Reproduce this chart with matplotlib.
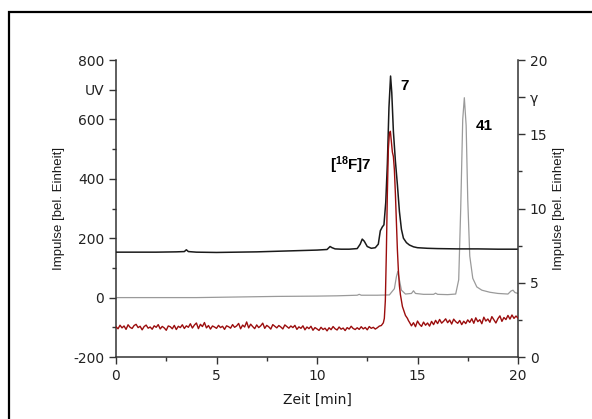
import matplotlib
matplotlib.use("Agg")
import matplotlib.pyplot as plt
from matplotlib.patches import Rectangle
import numpy as np

plt.rcParams["font.family"] = ["DejaVu Sans"]
plt.rcParams["mathtext.fontset"] = "custom"
plt.rcParams["mathtext.rm"] = "Liberation Sans"
plt.rcParams["mathtext.bf"] = "Liberation Sans:bold"

# UV trace (black), left axis units
uv_t = [0, 1, 2, 3, 3.4, 3.5, 3.6, 4, 5, 6, 7, 8, 9, 10, 10.5, 10.65, 10.75, 10.9,
        11.2, 11.6, 12.0, 12.15, 12.25, 12.35, 12.5, 12.7, 12.9, 13.05, 13.15, 13.25,
        13.33, 13.42, 13.5, 13.58, 13.66, 13.72, 13.8, 13.9, 14.0, 14.1, 14.2, 14.3,
        14.45, 14.6, 14.8, 15.0, 15.5, 16, 17, 18, 19, 20]
uv_v = [153, 153, 153, 154, 155, 161, 155, 153, 152, 153, 154, 156, 158, 160, 162, 172,
        168, 164, 163, 163, 165, 180, 197, 190, 172, 166, 168, 180, 225, 238,
        245, 320, 450, 640, 746, 690, 560, 460, 380, 290, 230, 200,
        185, 177, 171, 168, 166, 165, 164, 164, 163, 163]

# second UV trace (grey), left axis units
ref_t = [0, 2, 4, 6, 8, 10, 11, 12, 12.1, 12.2, 13, 13.6, 13.85, 13.95, 14.02, 14.1,
         14.2, 14.4, 14.7, 14.8, 14.9, 15.3, 15.8, 15.9, 16.0, 16.5, 16.9, 17.05, 17.15,
         17.25, 17.33, 17.42, 17.5, 17.6, 17.75, 17.95, 18.2, 18.6, 19.0, 19.5, 19.65,
         19.75, 19.85, 20]
ref_v = [0, 0, 0, 2, 4, 5, 6, 8, 11, 8, 8, 9, 30, 70, 88, 60,
         25, 12, 14, 23, 14, 11, 11, 15, 11, 10, 12, 60, 300,
         600, 673, 580, 330, 140, 65, 36, 25, 18, 14, 12, 22,
         25, 17, 14]

# gamma trace (dark red), right axis units; 0.1 min steps before/after the peak
gamma_pre = [
    2.04, 1.90, 2.14, 1.96, 2.09, 1.86, 2.17, 2.00, 1.92, 2.12,
    2.20, 1.98, 2.07, 1.83, 2.05, 2.15, 1.94, 2.02, 1.87, 2.10,
    2.00, 2.18, 1.89, 2.06, 1.96, 1.80, 2.09, 2.04, 1.90, 2.13,
    1.85, 2.07, 1.98, 2.17, 1.92, 2.10, 2.00, 2.24, 1.95, 2.15,
    2.29, 1.91, 2.20, 2.05, 2.32, 1.96, 2.12, 1.88, 2.09, 2.02,
    1.93, 2.13, 1.98, 2.07, 1.86, 2.10, 2.04, 1.94, 2.18, 2.00,
    2.09, 2.26, 1.90, 2.15, 2.02, 2.36, 1.96, 2.21, 2.05, 1.91,
    2.16, 1.98, 2.10, 2.28, 1.93, 2.13, 2.03, 1.88, 2.18, 2.07,
    1.96, 2.12, 2.02, 1.89, 2.16, 2.05, 1.94, 2.09, 1.98, 2.13,
    1.86, 2.03, 1.93, 2.10, 1.83, 2.02, 1.91, 2.07, 1.80, 1.98,
    1.89, 1.79, 2.00, 1.85, 1.94, 1.76, 1.97, 1.84, 2.05, 1.90,
    1.82, 2.02, 1.87, 1.95, 1.78, 1.98, 1.88, 2.07, 1.92, 1.85,
    1.97, 1.86, 2.04, 1.89, 1.99, 1.83, 2.05, 1.93, 2.00, 1.88,
    1.97, 2.08, 2.12, 2.30,
]
gamma_peak_t = [13.35, 13.4, 13.45, 13.5, 13.55, 13.6, 13.65, 13.7, 13.75, 13.8, 13.85,
                13.9, 13.95, 14.0, 14.05, 14.1, 14.15, 14.2, 14.25, 14.3, 14.35, 14.4,
                14.45, 14.5, 14.55]
gamma_peak_v = [2.6, 3.8, 7.0, 11.0, 14.0, 15.0, 15.2, 14.5, 13.8, 13.5, 12.6,
                11.0, 9.0, 7.2, 5.8, 4.8, 4.2, 3.8, 3.4, 3.2, 3.0, 2.8,
                2.7, 2.6, 2.45]
gamma_post = [
    2.34, 2.10, 2.31, 2.04, 2.42, 2.20, 2.06, 2.35, 2.14, 2.29,
    2.08, 2.40, 2.18, 2.47, 2.25, 2.53, 2.28, 2.41, 2.57, 2.31,
    2.49, 2.22, 2.55, 2.38, 2.27, 2.46, 2.18, 2.41, 2.25, 2.50,
    2.33, 2.58, 2.27, 2.64, 2.38, 2.51, 2.24, 2.68, 2.42, 2.56,
    2.34, 2.72, 2.50, 2.29, 2.58, 2.77, 2.40, 2.66, 2.52, 2.80,
    2.55, 2.83, 2.60, 2.76, 2.62,
]

left_ticks = [-200, 0, 200, 400, 600, 700, 800]
left_labels = ["-200", "0", "200", "400", "600", "UV", "800"]
right_ticks = [0, 5, 10, 15, 17.5, 20]
right_labels = ["0", "5", "10", "15", "\u03b3", "20"]

gamma_t = np.concatenate([
    np.round(np.arange(len(gamma_pre)) * 0.1, 2),
    gamma_peak_t,
    np.round(14.6 + np.arange(len(gamma_post)) * 0.1, 2),
])
gamma_v = np.concatenate([gamma_pre, gamma_peak_v, gamma_post])

fig = plt.figure(figsize=(5.92, 4.19), dpi=100)
fig.patches.append(Rectangle((9 / 592, -0.1), 1.0, 1.0 + 0.1 - 12 / 419,
                             transform=fig.transFigure, fill=False,
                             edgecolor="black", linewidth=1.6))
ax = fig.add_axes([116 / 592, 1 - 357 / 419, (518 - 116) / 592, (357 - 60) / 419])
ax2 = ax.twinx()

spine_col = "#333333"
ax.plot(ref_t, ref_v, color="#9a9a9a", lw=0.9, zorder=2)
ax.plot(uv_t, uv_v, color="#1a1a1a", lw=1.1, zorder=3)
ax2.plot(gamma_t, gamma_v, color="#9b0d0d", lw=1.0, zorder=4)

ax.set_xlim(0, 20)
ax.set_ylim(-200, 800)
ax2.set_ylim(0, 20)

ax.set_xticks([0, 5, 10, 15, 20])
ax.set_xticks([2.5, 7.5, 12.5, 17.5], minor=True)
ax.set_yticks(left_ticks)
ax.set_yticklabels(left_labels)
ax.set_yticks([-100, 100, 300, 500], minor=True)
ax2.set_yticks(right_ticks)
ax2.set_yticklabels(right_labels)
ax2.set_yticks([2.5, 7.5, 12.5], minor=True)

for a in (ax, ax2):
    a.spines["top"].set_visible(False)
    for s in ("left", "right", "bottom"):
        a.spines[s].set_color(spine_col)
        a.spines[s].set_linewidth(1.1)
    a.tick_params(which="major", direction="out", length=5, width=1.0,
                  color=spine_col, labelsize=10, labelcolor="#222222")
    a.tick_params(which="minor", direction="out", length=3, width=1.0, color=spine_col)
ax.spines["right"].set_visible(False)
ax2.spines["left"].set_visible(False)
ax2.spines["bottom"].set_visible(False)

lab_font = dict(fontsize=9.5, family="Liberation Sans", color="#1a1a1a")
ax.set_xlabel("Zeit [min]", fontsize=10, labelpad=7, color="#1a1a1a")
ax.set_ylabel("Impulse [bel. Einheit]", labelpad=6, **lab_font)
ax2.set_ylabel("Impulse [bel. Einheit]", labelpad=4, **lab_font)

bold = dict(fontsize=11, fontweight="bold", family="Liberation Sans",
            ha="center", va="center")
ax.text(14.35, 712, "7", **bold)
ax.text(18.3, 577, "41", **bold)
ax.text(11.7, 445, r"$\mathbf{[^{18}F]7}$", fontsize=11, ha="center", va="center")

fig.savefig("out.png", dpi=100)
